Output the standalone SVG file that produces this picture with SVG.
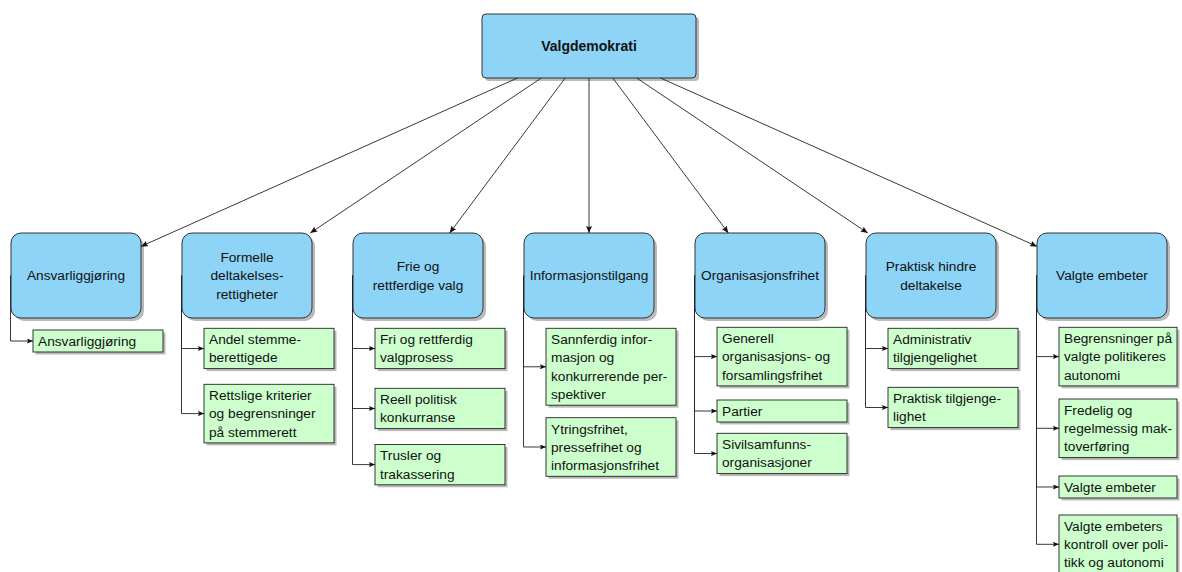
<svg xmlns="http://www.w3.org/2000/svg" width="1182" height="572" viewBox="0 0 1182 572">
  <defs>
    <style>
      .root { fill: #8dd4f6; stroke: #333; stroke-width: 1; }
      .cat { fill: #8dd4f6; stroke: #333; stroke-width: 1; }
      .leaf { fill: #ccffcc; stroke: #222; stroke-width: 0.9; }
      .shadow { fill: #000; opacity: 0.27; }
      .t { font-family: "Liberation Sans", Arial, sans-serif; font-size: 13.7px; fill: #111; }
      .tc { text-anchor: middle; }
      .tb { font-weight: bold; font-size: 14px; }
      .edge { fill: none; stroke: #222; stroke-width: 0.9; }
    </style>
    <marker id="ah" viewBox="0 0 7 6" refX="7" refY="3" markerWidth="7" markerHeight="6" markerUnits="userSpaceOnUse" orient="auto">
      <path d="M0,0 L7,3 L0,6 L1.2,3 z" fill="#111"/>
    </marker>
    <marker id="ahs" viewBox="0 0 6 5" refX="6" refY="2.5" markerWidth="6" markerHeight="5" markerUnits="userSpaceOnUse" orient="auto">
      <path d="M0,0 L6,2.5 L0,5 L1,2.5 z" fill="#111"/>
    </marker>
  </defs>
  <rect width="1182" height="572" fill="#fff"/>

  <!-- root -->
  <g id="root">
    <rect class="shadow" x="485" y="17" width="214" height="64" rx="4"/>
    <rect class="root" x="482" y="14" width="214" height="64" rx="4"/>
    <text class="t tc tb" x="589" y="51">Valgdemokrati</text>
  </g>

  <!-- categories -->
  <g id="cat-ansvar">
    <rect class="shadow" x="14" y="236" width="130" height="85" rx="10"/>
    <rect class="cat" x="11" y="233" width="130" height="85" rx="10"/>
    <text class="t tc" x="76" y="280.3">Ansvarliggjøring</text>
  </g>
  <g id="cat-formelle">
    <rect class="shadow" x="185" y="236" width="130" height="85" rx="10"/>
    <rect class="cat" x="182" y="233" width="130" height="85" rx="10"/>
    <text class="t tc" x="247" y="262">Formelle</text>
    <text class="t tc" x="247" y="280.3">deltakelses-</text>
    <text class="t tc" x="247" y="298.6">rettigheter</text>
  </g>
  <g id="cat-frie">
    <rect class="shadow" x="356" y="236" width="130" height="85" rx="10"/>
    <rect class="cat" x="353" y="233" width="130" height="85" rx="10"/>
    <text class="t tc" x="418" y="271.2">Frie og</text>
    <text class="t tc" x="418" y="289.5">rettferdige valg</text>
  </g>
  <g id="cat-info">
    <rect class="shadow" x="527" y="236" width="130" height="85" rx="10"/>
    <rect class="cat" x="524" y="233" width="130" height="85" rx="10"/>
    <text class="t tc" x="589" y="280.3">Informasjonstilgang</text>
  </g>
  <g id="cat-org">
    <rect class="shadow" x="698" y="236" width="130" height="85" rx="10"/>
    <rect class="cat" x="695" y="233" width="130" height="85" rx="10"/>
    <text class="t tc" x="760" y="280.3">Organisasjonsfrihet</text>
  </g>
  <g id="cat-praktisk">
    <rect class="shadow" x="869" y="236" width="130" height="85" rx="10"/>
    <rect class="cat" x="866" y="233" width="130" height="85" rx="10"/>
    <text class="t tc" x="931" y="271.2">Praktisk hindre</text>
    <text class="t tc" x="931" y="289.5">deltakelse</text>
  </g>
  <g id="cat-valgte">
    <rect class="shadow" x="1040" y="236" width="130" height="85" rx="10"/>
    <rect class="cat" x="1037" y="233" width="130" height="85" rx="10"/>
    <text class="t tc" x="1102" y="280.3">Valgte embeter</text>
  </g>

  <!-- leaves: column 1 -->
  <g id="leaf-ansvar">
    <rect class="shadow" x="35.5" y="332.5" width="130" height="22"/>
    <rect class="leaf" x="33" y="330" width="130" height="22"/>
    <text class="t" x="38" y="345.8">Ansvarliggjøring</text>
  </g>

  <!-- column 2 -->
  <g id="leaf-andel">
    <rect class="shadow" x="206.5" y="330.8" width="130" height="40.3"/>
    <rect class="leaf" x="204" y="328.3" width="130" height="40.3"/>
    <text class="t" x="209" y="344.1">Andel stemme-</text>
    <text class="t" x="209" y="362.4">berettigede</text>
  </g>
  <g id="leaf-rettslige">
    <rect class="shadow" x="206.5" y="386.8" width="130" height="58.6"/>
    <rect class="leaf" x="204" y="384.3" width="130" height="58.6"/>
    <text class="t" x="209" y="400.1">Rettslige kriterier</text>
    <text class="t" x="209" y="418.4">og begrensninger</text>
    <text class="t" x="209" y="436.7">på stemmerett</text>
  </g>

  <!-- column 3 -->
  <g id="leaf-valgprosess">
    <rect class="shadow" x="377.5" y="330.8" width="130" height="40.3"/>
    <rect class="leaf" x="375" y="328.3" width="130" height="40.3"/>
    <text class="t" x="380" y="344.1">Fri og rettferdig</text>
    <text class="t" x="380" y="362.4">valgprosess</text>
  </g>
  <g id="leaf-konkurranse">
    <rect class="shadow" x="377.5" y="390.8" width="130" height="40.3"/>
    <rect class="leaf" x="375" y="388.3" width="130" height="40.3"/>
    <text class="t" x="380" y="404.1">Reell politisk</text>
    <text class="t" x="380" y="422.4">konkurranse</text>
  </g>
  <g id="leaf-trusler">
    <rect class="shadow" x="377.5" y="447" width="130" height="40.3"/>
    <rect class="leaf" x="375" y="444.5" width="130" height="40.3"/>
    <text class="t" x="380" y="460.3">Trusler og</text>
    <text class="t" x="380" y="478.6">trakassering</text>
  </g>

  <!-- column 4 -->
  <g id="leaf-sannferdig">
    <rect class="shadow" x="548.5" y="330.8" width="130" height="76.9"/>
    <rect class="leaf" x="546" y="328.3" width="130" height="76.9"/>
    <text class="t" x="551" y="344.1">Sannferdig infor-</text>
    <text class="t" x="551" y="362.4">masjon og</text>
    <text class="t" x="551" y="380.7">konkurrerende per-</text>
    <text class="t" x="551" y="399">spektiver</text>
  </g>
  <g id="leaf-ytring">
    <rect class="shadow" x="548.5" y="420.2" width="130" height="58.6"/>
    <rect class="leaf" x="546" y="417.7" width="130" height="58.6"/>
    <text class="t" x="551" y="433.5">Ytringsfrihet,</text>
    <text class="t" x="551" y="451.8">pressefrihet og</text>
    <text class="t" x="551" y="470.1">informasjonsfrihet</text>
  </g>

  <!-- column 5 -->
  <g id="leaf-generell">
    <rect class="shadow" x="719.5" y="329.8" width="130" height="58.6"/>
    <rect class="leaf" x="717" y="327.3" width="130" height="58.6"/>
    <text class="t" x="722" y="343.1">Generell</text>
    <text class="t" x="722" y="361.4">organisasjons- og</text>
    <text class="t" x="722" y="379.7">forsamlingsfrihet</text>
  </g>
  <g id="leaf-partier">
    <rect class="shadow" x="719.5" y="402.5" width="130" height="22"/>
    <rect class="leaf" x="717" y="400" width="130" height="22"/>
    <text class="t" x="722" y="415.8">Partier</text>
  </g>
  <g id="leaf-sivil">
    <rect class="shadow" x="719.5" y="435.8" width="130" height="40.3"/>
    <rect class="leaf" x="717" y="433.3" width="130" height="40.3"/>
    <text class="t" x="722" y="449.1">Sivilsamfunns-</text>
    <text class="t" x="722" y="467.4">organisasjoner</text>
  </g>

  <!-- column 6 -->
  <g id="leaf-administrativ">
    <rect class="shadow" x="890.5" y="330.8" width="130" height="40.3"/>
    <rect class="leaf" x="888" y="328.3" width="130" height="40.3"/>
    <text class="t" x="893" y="344.1">Administrativ</text>
    <text class="t" x="893" y="362.4">tilgjengelighet</text>
  </g>
  <g id="leaf-praktisk">
    <rect class="shadow" x="890.5" y="389.8" width="130" height="40.3"/>
    <rect class="leaf" x="888" y="387.3" width="130" height="40.3"/>
    <text class="t" x="893" y="403.1">Praktisk tilgjenge-</text>
    <text class="t" x="893" y="421.4">lighet</text>
  </g>

  <!-- column 7 -->
  <g id="leaf-begrensninger">
    <rect class="shadow" x="1061.5" y="329.8" width="118" height="58.6"/>
    <rect class="leaf" x="1059" y="327.3" width="118" height="58.6"/>
    <text class="t" x="1064" y="343.1">Begrensninger på</text>
    <text class="t" x="1064" y="361.4">valgte politikeres</text>
    <text class="t" x="1064" y="379.7">autonomi</text>
  </g>
  <g id="leaf-fredelig">
    <rect class="shadow" x="1061.5" y="401.5" width="118" height="58.6"/>
    <rect class="leaf" x="1059" y="399" width="118" height="58.6"/>
    <text class="t" x="1064" y="414.8">Fredelig og</text>
    <text class="t" x="1064" y="433.1">regelmessig mak-</text>
    <text class="t" x="1064" y="451.4">toverføring</text>
  </g>
  <g id="leaf-embeter">
    <rect class="shadow" x="1061.5" y="478.5" width="118" height="22"/>
    <rect class="leaf" x="1059" y="476" width="118" height="22"/>
    <text class="t" x="1064" y="491.8">Valgte embeter</text>
  </g>
  <g id="leaf-kontroll">
    <rect class="shadow" x="1061.5" y="517.5" width="118" height="58.6"/>
    <rect class="leaf" x="1059" y="515" width="118" height="58.6"/>
    <text class="t" x="1064" y="530.8">Valgte embeters</text>
    <text class="t" x="1064" y="549.1">kontroll over poli-</text>
    <text class="t" x="1064" y="567.4">tikk og autonomi</text>
  </g>

  <!-- connectors -->
  <g id="connectors">
    <g marker-end="url(#ah)">
      <path class="edge" d="M517.5,78 L141,246.4"/>
      <path class="edge" d="M541.3,78 L310.3,233"/>
      <path class="edge" d="M565.2,78 L449.7,233"/>
      <path class="edge" d="M589,78 L589,233"/>
      <path class="edge" d="M612.8,78 L728.3,233"/>
      <path class="edge" d="M636.7,78 L867.7,233"/>
      <path class="edge" d="M660.5,78 L1037,246.4"/>
    </g>
    <g marker-end="url(#ahs)">
      <path class="edge" d="M10.5,275.5 V341 H33"/>

      <path class="edge" d="M181.5,275.5 V348.5 H204"/>
      <path class="edge" d="M181.5,275.5 V413.6 H204"/>

      <path class="edge" d="M352.5,275.5 V348.5 H375"/>
      <path class="edge" d="M352.5,275.5 V408.5 H375"/>
      <path class="edge" d="M352.5,275.5 V464.6 H375"/>

      <path class="edge" d="M523.5,275.5 V366.8 H546"/>
      <path class="edge" d="M523.5,275.5 V447 H546"/>

      <path class="edge" d="M694.5,275.5 V356.6 H717"/>
      <path class="edge" d="M694.5,275.5 V411 H717"/>
      <path class="edge" d="M694.5,275.5 V453.5 H717"/>

      <path class="edge" d="M865.5,275.5 V348.5 H888"/>
      <path class="edge" d="M865.5,275.5 V407.5 H888"/>

      <path class="edge" d="M1036.5,275.5 V356.6 H1059"/>
      <path class="edge" d="M1036.5,275.5 V428.3 H1059"/>
      <path class="edge" d="M1036.5,275.5 V487 H1059"/>
      <path class="edge" d="M1036.5,275.5 V544.3 H1059"/>
    </g>
  </g>
</svg>
